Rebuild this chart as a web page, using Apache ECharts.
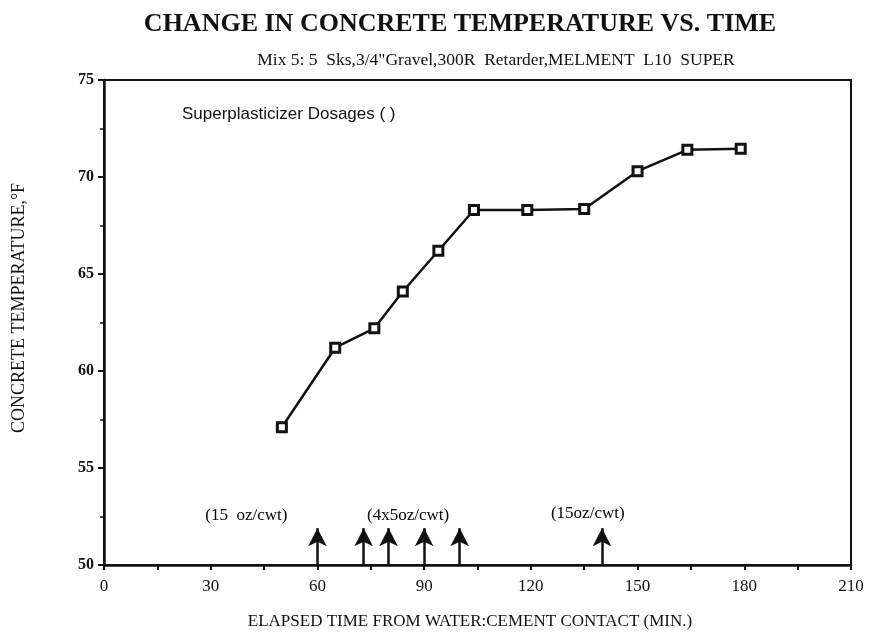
<!DOCTYPE html>
<html>
<head>
<meta charset="utf-8">
<script src="https://cdn.jsdelivr.net/npm/echarts@6/dist/echarts.min.js"></script>
<style>
  html, body { margin: 0; padding: 0; background: #fff; }
  #chart { width: 874px; height: 636px; }
</style>
</head>
<body>
<div id="chart"></div>
<script>
// elapsed time (min) and concrete temperature (F)
const times = [50, 65, 76, 84, 94, 104, 119, 135, 150, 164, 179];
const temps = [57.1, 61.2, 62.2, 64.1, 66.2, 68.3, 68.3, 68.35, 70.3, 71.4, 71.45];

// superplasticizer dosage arrows
const doseTimes = [60, 73, 80, 90, 100, 140];
const arrowBase = 50;
const arrowTip = 51.9;

// dosage notes
const noteText = ['(15  oz/cwt)', '(4x5oz/cwt)', '(15oz/cwt)'];
const noteX = [40, 85.5, 136];
const noteY = [52.55, 52.55, 52.65];

const xTicks = [0, 30, 60, 90, 120, 150, 180, 210];

const serif = '"Liberation Serif", "DejaVu Serif", serif';

const chart = echarts.init(document.getElementById('chart'));

const option = {
    animation: false,
    backgroundColor: '#fff',
    title: [
        {
            text: 'CHANGE IN CONCRETE TEMPERATURE VS. TIME',
            left: 455,
            top: 6,
            textAlign: 'center',
            textStyle: {fontFamily: serif, fontWeight: 'bold', fontSize: 26, color: '#111'}
        },
        {
            text: 'Mix 5: 5  Sks,3/4"Gravel,300R  Retarder,MELMENT  L10  SUPER',
            left: 491,
            top: 46,
            textAlign: 'center',
            textStyle: {fontFamily: serif, fontWeight: 'normal', fontSize: 17.5, color: '#111'}
        }
    ],
    graphic: [
        {
            type: 'text',
            left: 182,
            top: 106,
            style: {
                text: 'Superplasticizer Dosages ( )',
                font: '17px "Liberation Sans", Arial, sans-serif',
                fill: '#111'
            }
        },
        {
            // y axis title, placed like the original (a bit above the plot centre)
            type: 'text',
            x: 19,
            y: 308,
            rotation: Math.PI / 2,
            style: {
                text: 'CONCRETE TEMPERATURE,°F',
                font: '18px "Liberation Serif", serif',
                fill: '#111',
                align: 'center',
                verticalAlign: 'middle'
            }
        },
        {
            type: 'text',
            x: 470,
            y: 622,
            style: {
                text: 'ELAPSED TIME FROM WATER:CEMENT CONTACT (MIN.)',
                font: '17px "Liberation Serif", serif',
                fill: '#111',
                align: 'center',
                verticalAlign: 'middle'
            }
        }
    ],
    grid: {
        left: 104,
        right: 23,
        top: 80,
        bottom: 71,
        show: true,
        borderColor: '#111',
        borderWidth: 2
    },
    xAxis: {
        type: 'value',
        min: 0,
        max: 210,
        interval: 15,
        axisLine: {lineStyle: {color: '#111', width: 2.5}},
        axisTick: {inside: false, length: 5, lineStyle: {color: '#111', width: 2}},
        splitLine: {show: false},
        axisLabel: {
            fontFamily: serif,
            fontSize: 17,
            color: '#111',
            margin: 13,
            formatter: v => (xTicks.indexOf(v) >= 0 ? String(v) : '')
        }
    },
    yAxis: {
        type: 'value',
        min: 50,
        max: 75,
        interval: 5,
        axisLine: {lineStyle: {color: '#111', width: 2.5}},
        axisTick: {length: 6, lineStyle: {color: '#111', width: 2}},
        minorTick: {show: true, splitNumber: 2, length: 4, lineStyle: {color: '#111', width: 1.5}},
        splitLine: {show: false},
        axisLabel: {fontFamily: serif, fontSize: 16, fontWeight: 'bold', color: '#111', margin: 10}
    },
    series: [
        {
            type: 'line',
            data: times.map((t, i) => [t, temps[i]]),
            symbol: 'rect',
            symbolSize: 9,
            showSymbol: true,
            lineStyle: {color: '#111', width: 2.5},
            itemStyle: {color: '#fff', borderColor: '#111', borderWidth: 3},
            z: 3,
            markLine: {
                silent: true,
                symbol: ['none', 'arrow'],
                symbolSize: [14, 18],
                label: {show: false},
                lineStyle: {color: '#111', width: 2.5, type: 'solid'},
                data: doseTimes.map(t => [
                    {coord: [t, arrowBase]},
                    {coord: [t, arrowTip]}
                ])
            }
        },
        {
            type: 'scatter',
            symbolSize: 0,
            data: noteX.map((x, i) => [x, noteY[i], noteText[i]]),
            itemStyle: {opacity: 1},
            label: {
                show: true,
                position: 'inside',
                formatter: p => p.data[2],
                fontFamily: serif,
                fontSize: 17,
                color: '#000'
            },
            silent: true
        }
    ]
};

chart.setOption(option);
</script>
</body>
</html>
